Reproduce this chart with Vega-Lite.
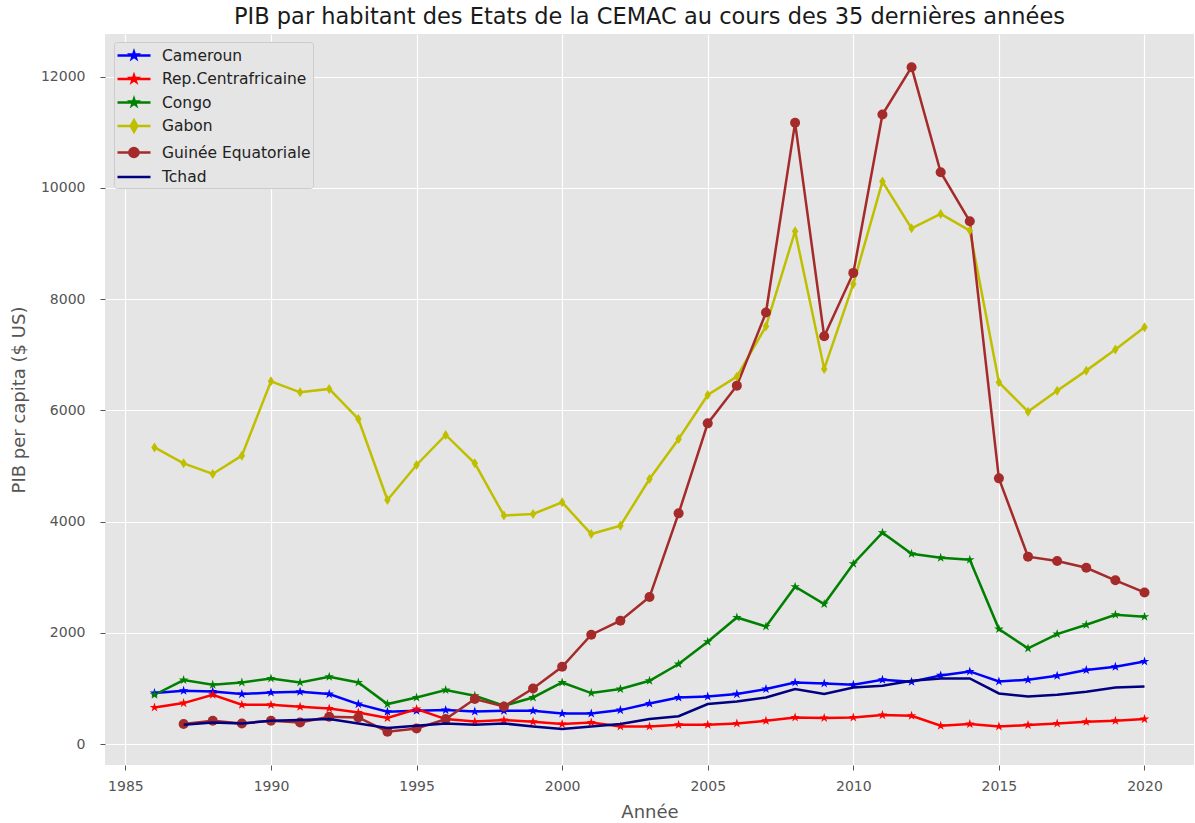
{
  "$schema": "https://vega.github.io/schema/vega-lite/v6.json",
  "width": 1089,
  "height": 731,
  "autosize": {"type": "none"},
  "padding": {"left": 105, "top": 34, "right": 1, "bottom": 58},
  "background": "white",
  "title": {
    "text": "PIB par habitant des Etats de la CEMAC au cours des 35 dernières années",
    "font": "DejaVu Sans",
    "fontSize": 22.5,
    "fontWeight": "normal",
    "color": "#1a1a1a",
    "anchor": "middle",
    "baseline": "alphabetic",
    "offset": 11,
    "dy": 23
  },
  "config": {
    "view": {"fill": "#E5E5E5", "stroke": null},
    "axis": {
      "domain": false,
      "gridColor": "#FFFFFF",
      "gridWidth": 1.2,
      "gridOpacity": 1,
      "tickColor": "#555555",
      "tickSize": 5,
      "labelColor": "#555555",
      "labelFont": "DejaVu Sans",
      "labelFontSize": 14,
      "titleColor": "#555555",
      "titleFont": "DejaVu Sans",
      "titleFontSize": 18,
      "titleFontWeight": "normal"
    }
  },
  "data": {
    "values": [
      {"annee": 1986, "pays": "Cameroun", "pib": 917},
      {"annee": 1987, "pays": "Cameroun", "pib": 959},
      {"annee": 1988, "pays": "Cameroun", "pib": 945},
      {"annee": 1989, "pays": "Cameroun", "pib": 899},
      {"annee": 1990, "pays": "Cameroun", "pib": 928},
      {"annee": 1991, "pays": "Cameroun", "pib": 941},
      {"annee": 1992, "pays": "Cameroun", "pib": 899},
      {"annee": 1993, "pays": "Cameroun", "pib": 719},
      {"annee": 1994, "pays": "Cameroun", "pib": 581},
      {"annee": 1995, "pays": "Cameroun", "pib": 599},
      {"annee": 1996, "pays": "Cameroun", "pib": 611},
      {"annee": 1997, "pays": "Cameroun", "pib": 586},
      {"annee": 1998, "pays": "Cameroun", "pib": 599},
      {"annee": 1999, "pays": "Cameroun", "pib": 599},
      {"annee": 2000, "pays": "Cameroun", "pib": 550},
      {"annee": 2001, "pays": "Cameroun", "pib": 550},
      {"annee": 2002, "pays": "Cameroun", "pib": 611},
      {"annee": 2003, "pays": "Cameroun", "pib": 730},
      {"annee": 2004, "pays": "Cameroun", "pib": 838},
      {"annee": 2005, "pays": "Cameroun", "pib": 856},
      {"annee": 2006, "pays": "Cameroun", "pib": 899},
      {"annee": 2007, "pays": "Cameroun", "pib": 989},
      {"annee": 2008, "pays": "Cameroun", "pib": 1108},
      {"annee": 2009, "pays": "Cameroun", "pib": 1090},
      {"annee": 2010, "pays": "Cameroun", "pib": 1067},
      {"annee": 2011, "pays": "Cameroun", "pib": 1156},
      {"annee": 2012, "pays": "Cameroun", "pib": 1120},
      {"annee": 2013, "pays": "Cameroun", "pib": 1235},
      {"annee": 2014, "pays": "Cameroun", "pib": 1306},
      {"annee": 2015, "pays": "Cameroun", "pib": 1126},
      {"annee": 2016, "pays": "Cameroun", "pib": 1156},
      {"annee": 2017, "pays": "Cameroun", "pib": 1228},
      {"annee": 2018, "pays": "Cameroun", "pib": 1331},
      {"annee": 2019, "pays": "Cameroun", "pib": 1390},
      {"annee": 2020, "pays": "Cameroun", "pib": 1486},

      {"annee": 1986, "pays": "Rep.Centrafricaine", "pib": 659},
      {"annee": 1987, "pays": "Rep.Centrafricaine", "pib": 737},
      {"annee": 1988, "pays": "Rep.Centrafricaine", "pib": 887},
      {"annee": 1989, "pays": "Rep.Centrafricaine", "pib": 707},
      {"annee": 1990, "pays": "Rep.Centrafricaine", "pib": 707},
      {"annee": 1991, "pays": "Rep.Centrafricaine", "pib": 671},
      {"annee": 1992, "pays": "Rep.Centrafricaine", "pib": 641},
      {"annee": 1993, "pays": "Rep.Centrafricaine", "pib": 569},
      {"annee": 1994, "pays": "Rep.Centrafricaine", "pib": 468},
      {"annee": 1995, "pays": "Rep.Centrafricaine", "pib": 629},
      {"annee": 1996, "pays": "Rep.Centrafricaine", "pib": 449},
      {"annee": 1997, "pays": "Rep.Centrafricaine", "pib": 407},
      {"annee": 1998, "pays": "Rep.Centrafricaine", "pib": 432},
      {"annee": 1999, "pays": "Rep.Centrafricaine", "pib": 401},
      {"annee": 2000, "pays": "Rep.Centrafricaine", "pib": 360},
      {"annee": 2001, "pays": "Rep.Centrafricaine", "pib": 389},
      {"annee": 2002, "pays": "Rep.Centrafricaine", "pib": 317},
      {"annee": 2003, "pays": "Rep.Centrafricaine", "pib": 317},
      {"annee": 2004, "pays": "Rep.Centrafricaine", "pib": 347},
      {"annee": 2005, "pays": "Rep.Centrafricaine", "pib": 347},
      {"annee": 2006, "pays": "Rep.Centrafricaine", "pib": 371},
      {"annee": 2007, "pays": "Rep.Centrafricaine", "pib": 419},
      {"annee": 2008, "pays": "Rep.Centrafricaine", "pib": 479},
      {"annee": 2009, "pays": "Rep.Centrafricaine", "pib": 470},
      {"annee": 2010, "pays": "Rep.Centrafricaine", "pib": 479},
      {"annee": 2011, "pays": "Rep.Centrafricaine", "pib": 521},
      {"annee": 2012, "pays": "Rep.Centrafricaine", "pib": 509},
      {"annee": 2013, "pays": "Rep.Centrafricaine", "pib": 329},
      {"annee": 2014, "pays": "Rep.Centrafricaine", "pib": 360},
      {"annee": 2015, "pays": "Rep.Centrafricaine", "pib": 317},
      {"annee": 2016, "pays": "Rep.Centrafricaine", "pib": 342},
      {"annee": 2017, "pays": "Rep.Centrafricaine", "pib": 371},
      {"annee": 2018, "pays": "Rep.Centrafricaine", "pib": 401},
      {"annee": 2019, "pays": "Rep.Centrafricaine", "pib": 419},
      {"annee": 2020, "pays": "Rep.Centrafricaine", "pib": 449},

      {"annee": 1986, "pays": "Congo", "pib": 887},
      {"annee": 1987, "pays": "Congo", "pib": 1151},
      {"annee": 1988, "pays": "Congo", "pib": 1067},
      {"annee": 1989, "pays": "Congo", "pib": 1108},
      {"annee": 1990, "pays": "Congo", "pib": 1180},
      {"annee": 1991, "pays": "Congo", "pib": 1108},
      {"annee": 1992, "pays": "Congo", "pib": 1210},
      {"annee": 1993, "pays": "Congo", "pib": 1108},
      {"annee": 1994, "pays": "Congo", "pib": 719},
      {"annee": 1995, "pays": "Congo", "pib": 838},
      {"annee": 1996, "pays": "Congo", "pib": 971},
      {"annee": 1997, "pays": "Congo", "pib": 869},
      {"annee": 1998, "pays": "Congo", "pib": 689},
      {"annee": 1999, "pays": "Congo", "pib": 838},
      {"annee": 2000, "pays": "Congo", "pib": 1108},
      {"annee": 2001, "pays": "Congo", "pib": 917},
      {"annee": 2002, "pays": "Congo", "pib": 989},
      {"annee": 2003, "pays": "Congo", "pib": 1138},
      {"annee": 2004, "pays": "Congo", "pib": 1439},
      {"annee": 2005, "pays": "Congo", "pib": 1840},
      {"annee": 2006, "pays": "Congo", "pib": 2277},
      {"annee": 2007, "pays": "Congo", "pib": 2115},
      {"annee": 2008, "pays": "Congo", "pib": 2829},
      {"annee": 2009, "pays": "Congo", "pib": 2518},
      {"annee": 2010, "pays": "Congo", "pib": 3243},
      {"annee": 2011, "pays": "Congo", "pib": 3800},
      {"annee": 2012, "pays": "Congo", "pib": 3422},
      {"annee": 2013, "pays": "Congo", "pib": 3350},
      {"annee": 2014, "pays": "Congo", "pib": 3315},
      {"annee": 2015, "pays": "Congo", "pib": 2068},
      {"annee": 2016, "pays": "Congo", "pib": 1720},
      {"annee": 2017, "pays": "Congo", "pib": 1978},
      {"annee": 2018, "pays": "Congo", "pib": 2146},
      {"annee": 2019, "pays": "Congo", "pib": 2326},
      {"annee": 2020, "pays": "Congo", "pib": 2290},

      {"annee": 1986, "pays": "Gabon", "pib": 5334},
      {"annee": 1987, "pays": "Gabon", "pib": 5047},
      {"annee": 1988, "pays": "Gabon", "pib": 4856},
      {"annee": 1989, "pays": "Gabon", "pib": 5185},
      {"annee": 1990, "pays": "Gabon", "pib": 6522},
      {"annee": 1991, "pays": "Gabon", "pib": 6324},
      {"annee": 1992, "pays": "Gabon", "pib": 6385},
      {"annee": 1993, "pays": "Gabon", "pib": 5845},
      {"annee": 1994, "pays": "Gabon", "pib": 4388},
      {"annee": 1995, "pays": "Gabon", "pib": 5018},
      {"annee": 1996, "pays": "Gabon", "pib": 5558},
      {"annee": 1997, "pays": "Gabon", "pib": 5047},
      {"annee": 1998, "pays": "Gabon", "pib": 4110},
      {"annee": 1999, "pays": "Gabon", "pib": 4137},
      {"annee": 2000, "pays": "Gabon", "pib": 4346},
      {"annee": 2001, "pays": "Gabon", "pib": 3777},
      {"annee": 2002, "pays": "Gabon", "pib": 3926},
      {"annee": 2003, "pays": "Gabon", "pib": 4766},
      {"annee": 2004, "pays": "Gabon", "pib": 5486},
      {"annee": 2005, "pays": "Gabon", "pib": 6277},
      {"annee": 2006, "pays": "Gabon", "pib": 6606},
      {"annee": 2007, "pays": "Gabon", "pib": 7511},
      {"annee": 2008, "pays": "Gabon", "pib": 9220},
      {"annee": 2009, "pays": "Gabon", "pib": 6745},
      {"annee": 2010, "pays": "Gabon", "pib": 8273},
      {"annee": 2011, "pays": "Gabon", "pib": 10113},
      {"annee": 2012, "pays": "Gabon", "pib": 9273},
      {"annee": 2013, "pays": "Gabon", "pib": 9532},
      {"annee": 2014, "pays": "Gabon", "pib": 9232},
      {"annee": 2015, "pays": "Gabon", "pib": 6504},
      {"annee": 2016, "pays": "Gabon", "pib": 5977},
      {"annee": 2017, "pays": "Gabon", "pib": 6354},
      {"annee": 2018, "pays": "Gabon", "pib": 6714},
      {"annee": 2019, "pays": "Gabon", "pib": 7092},
      {"annee": 2020, "pays": "Gabon", "pib": 7493},

      {"annee": 1987, "pays": "Guinée Equatoriale", "pib": 360},
      {"annee": 1988, "pays": "Guinée Equatoriale", "pib": 419},
      {"annee": 1989, "pays": "Guinée Equatoriale", "pib": 371},
      {"annee": 1990, "pays": "Guinée Equatoriale", "pib": 419},
      {"annee": 1991, "pays": "Guinée Equatoriale", "pib": 389},
      {"annee": 1992, "pays": "Guinée Equatoriale", "pib": 491},
      {"annee": 1993, "pays": "Guinée Equatoriale", "pib": 479},
      {"annee": 1994, "pays": "Guinée Equatoriale", "pib": 224},
      {"annee": 1995, "pays": "Guinée Equatoriale", "pib": 281},
      {"annee": 1996, "pays": "Guinée Equatoriale", "pib": 449},
      {"annee": 1997, "pays": "Guinée Equatoriale", "pib": 809},
      {"annee": 1998, "pays": "Guinée Equatoriale", "pib": 676},
      {"annee": 1999, "pays": "Guinée Equatoriale", "pib": 1000},
      {"annee": 2000, "pays": "Guinée Equatoriale", "pib": 1390},
      {"annee": 2001, "pays": "Guinée Equatoriale", "pib": 1966},
      {"annee": 2002, "pays": "Guinée Equatoriale", "pib": 2218},
      {"annee": 2003, "pays": "Guinée Equatoriale", "pib": 2643},
      {"annee": 2004, "pays": "Guinée Equatoriale", "pib": 4148},
      {"annee": 2005, "pays": "Guinée Equatoriale", "pib": 5766},
      {"annee": 2006, "pays": "Guinée Equatoriale", "pib": 6444},
      {"annee": 2007, "pays": "Guinée Equatoriale", "pib": 7758},
      {"annee": 2008, "pays": "Guinée Equatoriale", "pib": 11169},
      {"annee": 2009, "pays": "Guinée Equatoriale", "pib": 7331},
      {"annee": 2010, "pays": "Guinée Equatoriale", "pib": 8471},
      {"annee": 2011, "pays": "Guinée Equatoriale", "pib": 11318},
      {"annee": 2012, "pays": "Guinée Equatoriale", "pib": 12169},
      {"annee": 2013, "pays": "Guinée Equatoriale", "pib": 10281},
      {"annee": 2014, "pays": "Guinée Equatoriale", "pib": 9399},
      {"annee": 2015, "pays": "Guinée Equatoriale", "pib": 4777},
      {"annee": 2016, "pays": "Guinée Equatoriale", "pib": 3370},
      {"annee": 2017, "pays": "Guinée Equatoriale", "pib": 3290},
      {"annee": 2018, "pays": "Guinée Equatoriale", "pib": 3170},
      {"annee": 2019, "pays": "Guinée Equatoriale", "pib": 2944},
      {"annee": 2020, "pays": "Guinée Equatoriale", "pib": 2726},

      {"annee": 1987, "pays": "Tchad", "pib": 347},
      {"annee": 1988, "pays": "Tchad", "pib": 389},
      {"annee": 1989, "pays": "Tchad", "pib": 371},
      {"annee": 1990, "pays": "Tchad", "pib": 419},
      {"annee": 1991, "pays": "Tchad", "pib": 432},
      {"annee": 1992, "pays": "Tchad", "pib": 449},
      {"annee": 1993, "pays": "Tchad", "pib": 371},
      {"annee": 1994, "pays": "Tchad", "pib": 288},
      {"annee": 1995, "pays": "Tchad", "pib": 329},
      {"annee": 1996, "pays": "Tchad", "pib": 371},
      {"annee": 1997, "pays": "Tchad", "pib": 347},
      {"annee": 1998, "pays": "Tchad", "pib": 371},
      {"annee": 1999, "pays": "Tchad", "pib": 317},
      {"annee": 2000, "pays": "Tchad", "pib": 270},
      {"annee": 2001, "pays": "Tchad", "pib": 317},
      {"annee": 2002, "pays": "Tchad", "pib": 360},
      {"annee": 2003, "pays": "Tchad", "pib": 449},
      {"annee": 2004, "pays": "Tchad", "pib": 500},
      {"annee": 2005, "pays": "Tchad", "pib": 719},
      {"annee": 2006, "pays": "Tchad", "pib": 766},
      {"annee": 2007, "pays": "Tchad", "pib": 838},
      {"annee": 2008, "pays": "Tchad", "pib": 989},
      {"annee": 2009, "pays": "Tchad", "pib": 899},
      {"annee": 2010, "pays": "Tchad", "pib": 1018},
      {"annee": 2011, "pays": "Tchad", "pib": 1049},
      {"annee": 2012, "pays": "Tchad", "pib": 1139},
      {"annee": 2013, "pays": "Tchad", "pib": 1180},
      {"annee": 2014, "pays": "Tchad", "pib": 1180},
      {"annee": 2015, "pays": "Tchad", "pib": 910},
      {"annee": 2016, "pays": "Tchad", "pib": 856},
      {"annee": 2017, "pays": "Tchad", "pib": 887},
      {"annee": 2018, "pays": "Tchad", "pib": 941},
      {"annee": 2019, "pays": "Tchad", "pib": 1018},
      {"annee": 2020, "pays": "Tchad", "pib": 1036}
    ]
  },
  "encoding": {
    "x": {
      "field": "annee",
      "type": "quantitative",
      "scale": {"domain": [1984.3, 2021.7], "nice": false, "zero": false},
      "axis": {
        "values": [1985, 1990, 1995, 2000, 2005, 2010, 2015, 2020],
        "format": "d",
        "title": "Année",
        "labelPadding": 9,
        "titlePadding": 10
      }
    },
    "y": {
      "field": "pib",
      "type": "quantitative",
      "scale": {"domain": [-376, 12766], "nice": false, "zero": false},
      "axis": {
        "values": [0, 2000, 4000, 6000, 8000, 10000, 12000],
        "format": "d",
        "title": "PIB per capita ($ US)",
        "labelPadding": 15,
        "titlePadding": 12
      }
    },
    "color": {
      "field": "pays",
      "type": "nominal",
      "scale": {
        "domain": ["Cameroun", "Rep.Centrafricaine", "Congo", "Gabon", "Guinée Equatoriale", "Tchad"],
        "range": ["#0000FF", "#FF0000", "#008000", "#BFBF00", "#A52A2A", "#000080"]
      },
      "legend": {
        "title": null,
        "orient": "none",
        "legendX": 9,
        "legendY": 8,
        "fillColor": "#E5E5E5",
        "strokeColor": "#CCCCCC",
        "cornerRadius": 3,
        "padding": 2,
        "labelFont": "DejaVu Sans",
        "labelFontSize": 15.5,
        "labelColor": "#222222",
        "labelOffset": 23,
        "symbolSize": 400,
        "symbolStrokeWidth": 2.4,
        "rowPadding": 3.5,
        "encode": {
          "symbols": {
            "update": {
              "shape": {"signal": "datum.value === 'Gabon' ? 'M-1,0L2.3,0M0.65,-0.59L0.99,0L0.65,0.59L0.31,0Z' : datum.value === 'Guinée Equatoriale' ? 'M-1,0L2.3,0M1.1,0A0.46,0.46 0 1,1 0.18,0A0.46,0.46 0 1,1 1.1,0Z' : datum.value === 'Tchad' ? 'M-1,0L2.3,0' : 'M-1,0L2.3,0M0.65,-0.36L0.731,-0.111L0.992,-0.111L0.781,0.042L0.861,0.291L0.65,0.138L0.439,0.291L0.519,0.042L0.308,-0.111L0.569,-0.111Z'"},
              "fill": {"signal": "scale('color', datum.value)"},
              "stroke": {"signal": "scale('color', datum.value)"},
              "strokeWidth": {"value": 2.4},
              "opacity": {"value": 1}
            }
          }
        }
      }
    }
  },
  "layer": [
    {
      "transform": [{"filter": "datum.pays !== 'Tchad'"}],
      "mark": {"type": "line", "strokeWidth": 2.5}
    },
    {
      "transform": [{"filter": "datum.pays !== 'Tchad'"}],
      "mark": {"type": "point", "filled": true, "opacity": 1},
      "encoding": {
        "shape": {
          "field": "pays",
          "type": "nominal",
          "scale": {
            "domain": ["Cameroun", "Rep.Centrafricaine", "Congo", "Gabon", "Guinée Equatoriale"],
            "range": [
              "M0,-1L0.2245,-0.309L0.9511,-0.309L0.3633,0.118L0.5878,0.809L0,0.382L-0.5878,0.809L-0.3633,0.118L-0.9511,-0.309L-0.2245,-0.309Z",
              "M0,-1L0.2245,-0.309L0.9511,-0.309L0.3633,0.118L0.5878,0.809L0,0.382L-0.5878,0.809L-0.3633,0.118L-0.9511,-0.309L-0.2245,-0.309Z",
              "M0,-1L0.2245,-0.309L0.9511,-0.309L0.3633,0.118L0.5878,0.809L0,0.382L-0.5878,0.809L-0.3633,0.118L-0.9511,-0.309L-0.2245,-0.309Z",
              "M0,-1L0.65,0L0,1L-0.65,0Z",
              "circle"
            ]
          },
          "legend": null
        },
        "size": {
          "field": "pays",
          "type": "nominal",
          "scale": {
            "domain": ["Cameroun", "Rep.Centrafricaine", "Congo", "Gabon", "Guinée Equatoriale"],
            "range": [100, 100, 100, 290, 120]
          },
          "legend": null
        }
      }
    },
    {
      "transform": [{"filter": "datum.pays === 'Tchad'"}],
      "mark": {"type": "line", "strokeWidth": 2.5}
    }
  ]
}
